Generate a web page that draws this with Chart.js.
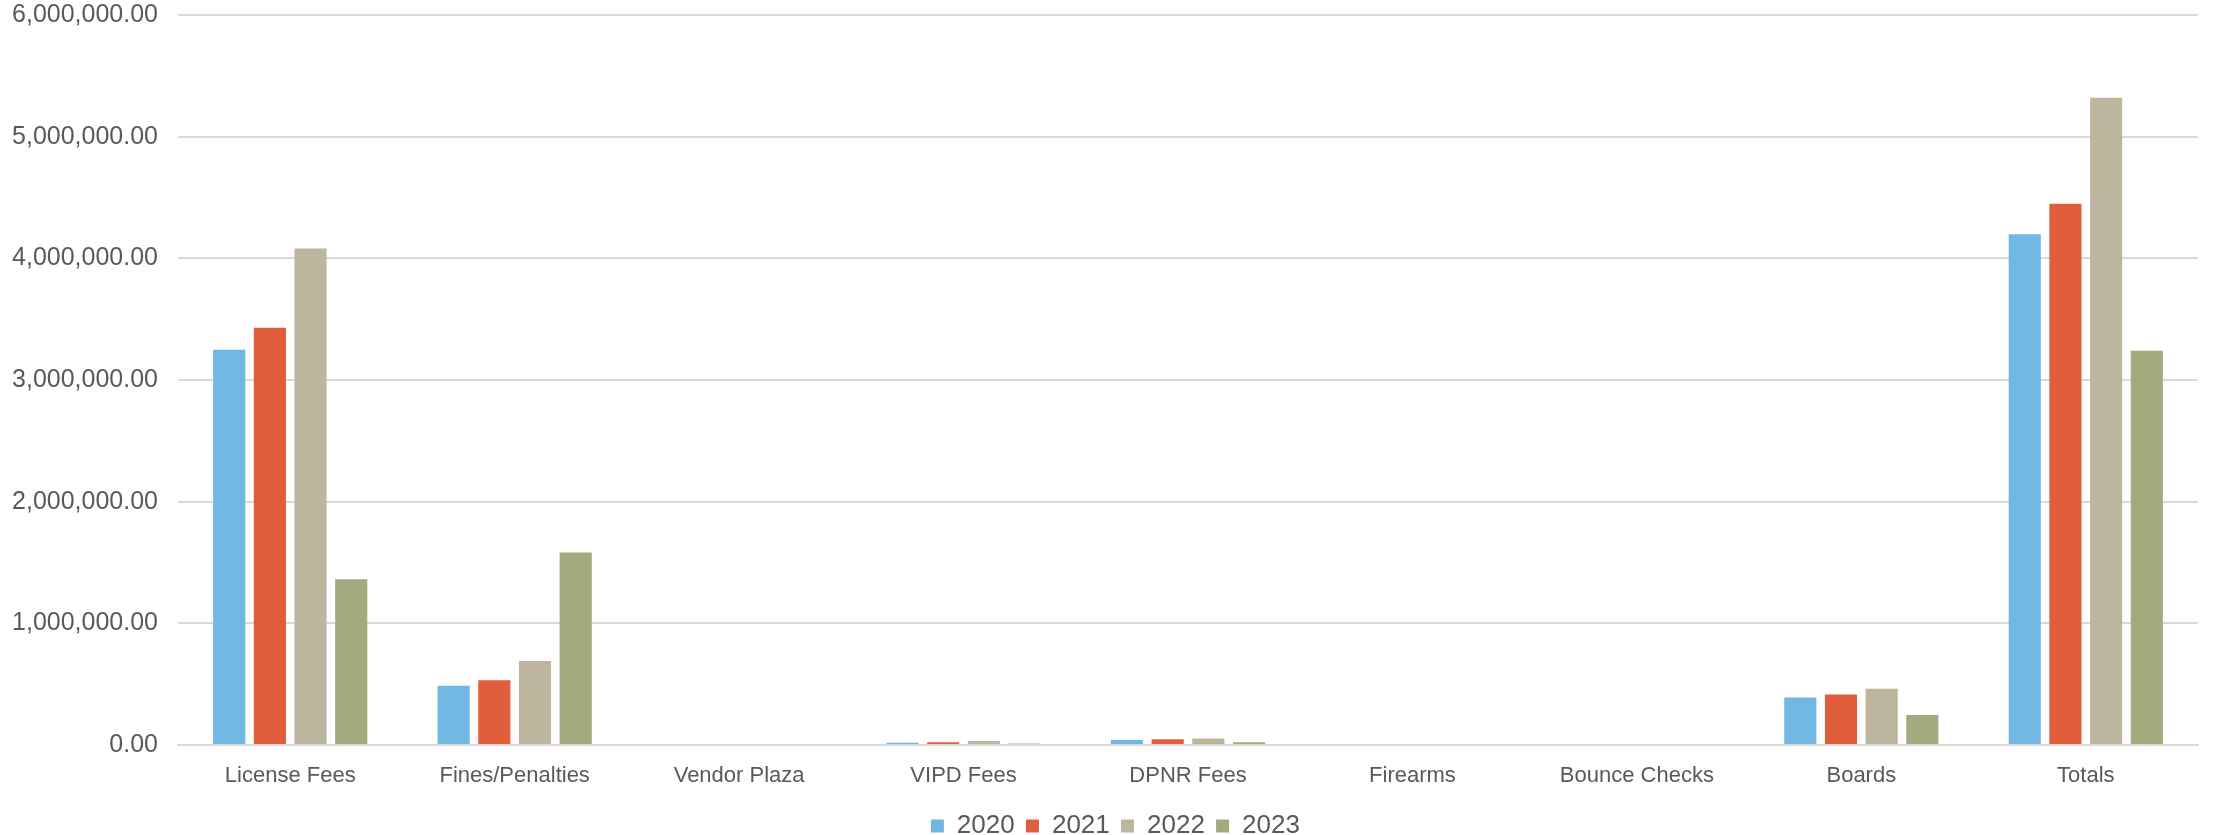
<!DOCTYPE html>
<html>
<head>
<meta charset="utf-8">
<script src="https://cdn.jsdelivr.net/npm/chart.js@4.4.1/dist/chart.umd.min.js"></script>
<style>
  html, body { margin: 0; padding: 0; background: #fff; }
  #wrap { width: 2215px; height: 835px; }
</style>
</head>
<body>
<div id="wrap"><canvas id="revChart"></canvas></div>
<script>
const categories = ['License Fees', 'Fines/Penalties', 'Vendor Plaza', 'VIPD Fees', 'DPNR Fees', 'Firearms', 'Bounce Checks', 'Boards', 'Totals'];
const years = ['2020', '2021', '2022', '2023'];
const colores = ['#71b7e3', '#e15e3c', '#bdb59e', '#a3aa7e'];

const v2020 = [3248000, 486000, 0, 19000, 41000, 0, 0, 390000, 4197000];
const v2021 = [3430000, 533000, 0, 22000, 47000, 0, 0, 415000, 4448000];
const v2022 = [4080000, 690000, 0, 32000, 54000, 0, 0, 462000, 5320000];
const v2023 = [1362000, 1582000, 0, 13000, 22000, 0, 0, 247000, 3240000];

const yTicks = [0, 1000000, 2000000, 3000000, 4000000, 5000000, 6000000];

const series = [v2020, v2021, v2022, v2023];
const txt = '#595959';
const fontFam = "'Liberation Sans', Arial, sans-serif";

// mueve la leyenda un poco a la derecha (como en el original)
const moverLeyenda = {
  id: 'moverLeyenda',
  afterLayout(c) {
    if (c.legend) { c.legend.left += 20; c.legend.right += 20; }
  }
};

const ctx = document.getElementById('revChart').getContext('2d');
const chart = new Chart(ctx, {
  type: 'bar',
  data: {
    labels: categories,
    datasets: series.map((d, i) => ({
      label: years[i],
      data: d,
      backgroundColor: colores[i],
      borderWidth: 0,
      categoryPercentage: 0.725,
      barPercentage: 0.79
    }))
  },
  plugins: [moverLeyenda],
  options: {
    responsive: true,
    maintainAspectRatio: false,
    animation: false,
    layout: { padding: { left: 0, right: 17, top: 0, bottom: -14 } },
    plugins: {
      tooltip: { enabled: false },
      legend: {
        position: 'bottom',
        labels: {
          color: txt,
          font: { family: fontFam, size: 26 },
          boxWidth: 13,
          boxHeight: 13,
          padding: 4,
          // un espacio extra para separar los items como en Excel
          generateLabels: c => Chart.defaults.plugins.legend.labels.generateLabels(c).map(l => ({ ...l, text: l.text + ' ' }))
        }
      }
    },
    scales: {
      x: {
        grid: { display: false, drawTicks: false },
        border: { color: '#d9d9d9', width: 2 },
        afterFit: s => { s.height = 64; },
        ticks: { color: txt, font: { family: fontFam, size: 22 }, padding: 18, maxRotation: 0 }
      },
      y: {
        min: 0,
        max: 6000000,
        afterBuildTicks: s => { s.ticks = yTicks.map(v => ({ value: v })); },
        afterFit: s => { s.width = 178; s.paddingTop = 15; s.paddingBottom = 0; },
        grid: { color: '#d9d9d9', lineWidth: 2, drawTicks: false },
        border: { display: false },
        ticks: {
          color: txt,
          font: { family: fontFam, size: 25 },
          padding: 20,
          callback: v => Number(v).toLocaleString('en-US', { minimumFractionDigits: 2, maximumFractionDigits: 2 })
        }
      }
    }
  }
});
</script>
</body>
</html>
